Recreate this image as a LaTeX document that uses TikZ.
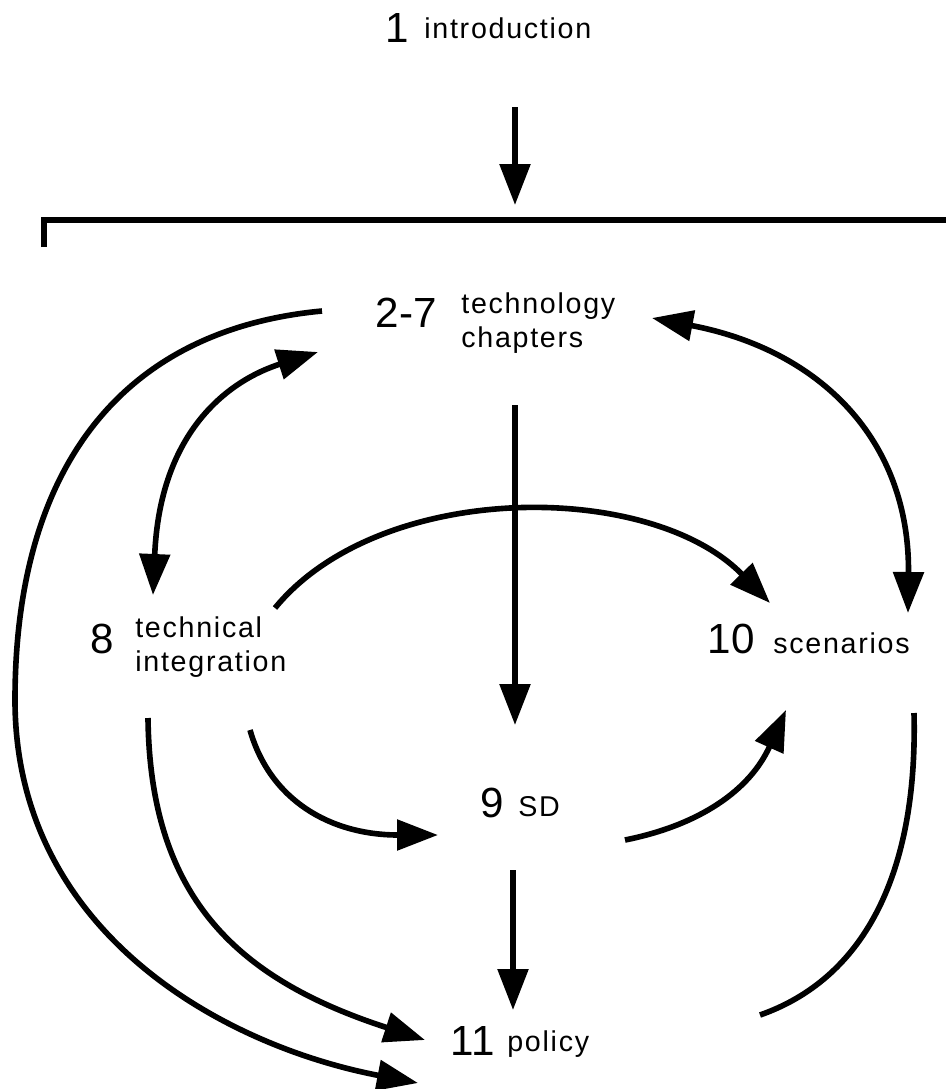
\documentclass[tikz,border=0pt]{standalone}
\usepackage{fontspec}
\setmainfont{Liberation Sans}
\newfontfamily\lblfont[LetterSpace=6]{Liberation Sans}
\usetikzlibrary{arrows.meta}
\usetikzlibrary{positioning}

\begin{document}
\begin{tikzpicture}[x=0.02cm,y=-0.02cm,
    num/.style={inner sep=0pt,anchor=east,font=\fontsize{24pt}{26pt}\selectfont},
    lbl/.style={inner sep=0pt,align=left,font=\lblfont\fontsize{16.3pt}{19.6pt}\selectfont},
    link/.style={line width=3.2pt},
    >={Triangle[length=0.82cm,width=0.6cm]}]
  \useasboundingbox (0,0) rectangle (946,1089);

  % chapters
  \node[num] (n1) at (409,28) {1};
  \node[lbl, right=0.3cm of n1] (intro) {introduction};
  \node[num] (n27) at (437,313) {2-7};
  \node[lbl, right=0.48cm of n27, yshift=-0.2cm] (tech) {technology\\chapters};
  \node[num] (n8) at (114,639) {8};
  \node[lbl, right=0.42cm of n8, yshift=-0.16cm] (integ) {technical\\integration};
  \node[num] (n9) at (504,803) {9};
  \node[lbl, right=0.28cm of n9, yshift=-0.08cm] (sd) {SD};
  \node[num] (n10) at (755,639) {10};
  \node[lbl, right=0.36cm of n10, yshift=-0.08cm] (scen) {scenarios};
  \node[num] (n11) at (495,1041) {11};
  \node[lbl, right=0.24cm of n11, yshift=-0.06cm] (policy) {policy};

  % ends of the links
  \coordinate (introS) at (515,107);
  \coordinate (barN) at (515,205);
  \coordinate (techW) at (322,311);
  \coordinate (policyW) at (418,1083);
  \coordinate (techSW) at (318,352);
  \coordinate (integN) at (153,595);
  \coordinate (techE) at (652,318);
  \coordinate (scenN) at (908,613);
  \coordinate (integNE) at (275,608);
  \coordinate (scenNW) at (770,603);
  \coordinate (techS) at (515,405);
  \coordinate (sdN) at (515,725);
  \coordinate (integSE) at (250,730);
  \coordinate (sdW) at (438,835);
  \coordinate (sdE) at (625,840);
  \coordinate (scenSW) at (786,710);
  \coordinate (sdS) at (513,870);
  \coordinate (policyN) at (513,1010);
  \coordinate (integS) at (148,718);
  \coordinate (policyNW) at (425,1040);
  \coordinate (scenS) at (914,713);
  \coordinate (policyE) at (760,1015);

  % bracket under the introduction
  \draw[line width=3.6pt] (44,247) -- (44,220) -- (946,220);
  \draw[link,->] (introS) -- (barN);

  \draw[link,->] (techW) .. controls (120,330) and (15,470) .. (15,700)
    .. controls (15,930) and (220,1045) .. (policyW);
  \draw[link,<->] (techSW) .. controls (230,380) and (160,430) .. (integN);
  \draw[link,<->] (techE) .. controls (820,350) and (910,440) .. (scenN);
  \draw[link,->] (integNE) .. controls (380,480) and (650,480) .. (scenNW);
  \draw[link,->] (techS) -- (sdN);
  \draw[link,->] (integSE) .. controls (270,800) and (330,835) .. (sdW);
  \draw[link,->] (sdE) .. controls (700,825) and (750,790) .. (scenSW);
  \draw[link,->] (sdS) -- (policyN);
  \draw[link,->] (integS) .. controls (150,900) and (240,980) .. (policyNW);
  \draw[link] (scenS) .. controls (918,880) and (860,980) .. (policyE);
\end{tikzpicture}
\end{document}
